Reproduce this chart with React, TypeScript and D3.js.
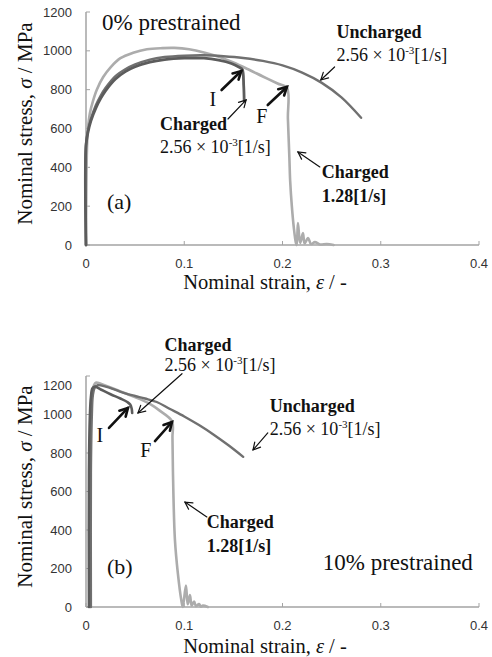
import * as d3 from "d3";

type Pt = [number, number];

const xTicks = [0, 0.1, 0.2, 0.3, 0.4];
const yTicks = [0, 200, 400, 600, 800, 1000, 1200];

// (a) 0% prestrained — [strain, stress MPa]
const aUncharged: Pt[] = [
  [0, 0], [0, 520], [0.002, 590], [0.005, 650], [0.01, 720], [0.015, 770], [0.02, 810],
  [0.03, 870], [0.04, 905], [0.05, 930], [0.065, 955], [0.08, 968], [0.1, 975],
  [0.12, 977], [0.14, 972], [0.16, 963], [0.18, 948], [0.2, 925], [0.22, 888],
  [0.24, 835], [0.26, 760], [0.28, 655],
];
const aChargedSlow: Pt[] = [
  [0, 0], [0, 510], [0.002, 580], [0.005, 640], [0.01, 705], [0.015, 755], [0.02, 795],
  [0.03, 855], [0.04, 893], [0.05, 918], [0.065, 942], [0.08, 955], [0.1, 962],
  [0.12, 962], [0.135, 952], [0.148, 935], [0.156, 915], [0.159, 905], [0.1605, 820],
  [0.161, 740],
];
const aChargedFast: Pt[] = [
  [0, 0], [0.001, 500], [0.002, 600], [0.004, 680], [0.007, 740], [0.011, 800],
  [0.0175, 865], [0.025, 915], [0.035, 962], [0.048, 990], [0.062, 1008], [0.078, 1014],
  [0.09, 1015], [0.105, 1008], [0.12, 992], [0.135, 970], [0.15, 940], [0.165, 905],
  [0.18, 868], [0.195, 832], [0.2045, 810], [0.2055, 650], [0.207, 450], [0.2078, 330],
  [0.2095, 200], [0.2115, 90], [0.2135, 15], [0.2145, 0], [0.2157, 113], [0.218, 10],
  [0.2208, 62], [0.2225, 8], [0.226, 36], [0.229, 5], [0.233, 15], [0.238, 3],
  [0.245, 5], [0.252, 0],
];

// (b) 10% prestrained
const bUncharged: Pt[] = [
  [0.005, 0], [0.005, 700], [0.006, 1000], [0.007, 1100], [0.009, 1140], [0.012, 1152],
  [0.02, 1145], [0.03, 1128], [0.04, 1110], [0.05, 1096], [0.06, 1083], [0.072, 1065],
  [0.085, 1030], [0.1, 990], [0.115, 945], [0.13, 895], [0.145, 840], [0.16, 780],
];
const bChargedSlow: Pt[] = [
  [0.003, 0], [0.003, 700], [0.004, 1000], [0.005, 1090], [0.0065, 1135], [0.009, 1145],
  [0.015, 1130], [0.025, 1105], [0.035, 1083], [0.042, 1065], [0.045, 1052],
  [0.0465, 1030], [0.047, 1008],
];
const bChargedFast: Pt[] = [
  [0.004, 0], [0.004, 700], [0.005, 1000], [0.006, 1110], [0.008, 1150], [0.01, 1165],
  [0.015, 1160], [0.025, 1140], [0.035, 1120], [0.045, 1100], [0.055, 1080],
  [0.065, 1055], [0.075, 1020], [0.0875, 965], [0.088, 880], [0.0885, 700],
  [0.0905, 350], [0.0935, 175], [0.097, 36], [0.0985, 0], [0.1017, 112], [0.1035, 15],
  [0.1058, 62], [0.1075, 8], [0.11, 28], [0.112, 4], [0.115, 15], [0.117, 2],
  [0.119, 7], [0.124, 0],
];

const COL_UNCH = "#707070";
const COL_SLOW = "#5c5c5c";
const COL_FAST = "#acacac";
const SERIF = "Liberation Serif, Times New Roman, DejaVu Serif, serif";
const SANS = "Liberation Sans, Arial, sans-serif";

type Label = { x: number; y: number; text: string; bold?: boolean; rate?: boolean; size?: number; anchor?: string };
type ArrowDef = { x1: number; y1: number; x2: number; y2: number; thick?: boolean };

const aLabels: Label[] = [
  { x: 0.0163, y: 1105, text: "0% prestrained", size: 23 },
  { x: 0.255, y: 1066, text: "Uncharged", bold: true },
  { x: 0.255, y: 950, text: "2.56", rate: true },
  { x: 0.0753, y: 592, text: "Charged", bold: true },
  { x: 0.0753, y: 474, text: "2.56", rate: true },
  { x: 0.24, y: 345, text: "Charged", bold: true },
  { x: 0.24, y: 221, text: "1.28[1/s]", bold: true },
  { x: 0.129, y: 716, text: "I", size: 20, anchor: "middle" },
  { x: 0.179, y: 628, text: "F", size: 20, anchor: "middle" },
  { x: 0.0214, y: 185, text: "(a)", size: 22 },
];
const aArrows: ArrowDef[] = [
  { x1: 0.253, y1: 917, x2: 0.239, y2: 850 },
  { x1: 0.1445, y1: 649, x2: 0.163, y2: 747 },
  { x1: 0.238, y1: 402, x2: 0.2157, y2: 479 },
  { x1: 0.138, y1: 798, x2: 0.158, y2: 896, thick: true },
  { x1: 0.185, y1: 721, x2: 0.2045, y2: 814, thick: true },
];

const bLabels: Label[] = [
  { x: 0.08, y: 1330, text: "Charged", bold: true },
  { x: 0.08, y: 1225, text: "2.56", rate: true },
  { x: 0.187, y: 1013, text: "Uncharged", bold: true },
  { x: 0.187, y: 894, text: "2.56", rate: true },
  { x: 0.123, y: 410, text: "Charged", bold: true },
  { x: 0.123, y: 286, text: "1.28[1/s]", bold: true },
  { x: 0.241, y: 192, text: "10% prestrained", size: 23 },
  { x: 0.0142, y: 857, text: "I", size: 20, anchor: "middle" },
  { x: 0.061, y: 779, text: "F", size: 20, anchor: "middle" },
  { x: 0.0214, y: 171, text: "(b)", size: 22 },
];
const bArrows: ArrowDef[] = [
  { x1: 0.0977, y1: 1212, x2: 0.0529, y2: 1008 },
  { x1: 0.185, y1: 904, x2: 0.17, y2: 816 },
  { x1: 0.123, y1: 468, x2: 0.1007, y2: 545 },
  { x1: 0.0234, y1: 930, x2: 0.0427, y2: 1034, thick: true },
  { x1: 0.0702, y1: 862, x2: 0.0875, y2: 961, thick: true },
];

function Arrow({ x1, y1, x2, y2, thick }: { x1: number; y1: number; x2: number; y2: number; thick?: boolean }) {
  const a = Math.atan2(y2 - y1, x2 - x1);
  const h = thick ? 9 : 8;
  const s = 0.5;
  const p1 = [x2 - h * Math.cos(a - s), y2 - h * Math.sin(a - s)];
  const p2 = [x2 - h * Math.cos(a + s), y2 - h * Math.sin(a + s)];
  return (
    <g stroke="#111" strokeWidth={thick ? 2.6 : 1.2} fill="none" strokeLinecap="round">
      <line x1={x1} y1={y1} x2={x2} y2={y2} />
      <polyline points={`${p1[0]},${p1[1]} ${x2},${y2} ${p2[0]},${p2[1]}`} strokeLinejoin="miter" />
    </g>
  );
}

function Panel({
  top, bottom, series, labels, arrows, xLabelGap, topLabelShift,
}: {
  top: number; bottom: number; series: { data: Pt[]; color: string; w: number }[];
  labels: Label[]; arrows: ArrowDef[]; xLabelGap: number; topLabelShift: number;
}) {
  const x = d3.scaleLinear().domain([0, 0.4]).range([86, 479]);
  const y = d3.scaleLinear().domain([0, 1200]).range([bottom, top]);
  const line = d3.line<Pt>().x((d) => x(d[0])).y((d) => y(d[1])).curve(d3.curveCatmullRom.alpha(0.5));
  const axisCol = "#a3a3a3";
  return (
    <g>
      {/* axes */}
      <line x1={x(0)} x2={x(0)} y1={y(0)} y2={y(1200)} stroke={axisCol} strokeWidth={1.5} />
      <line x1={x(0)} x2={x(0.4)} y1={y(0)} y2={y(0)} stroke={axisCol} strokeWidth={1.5} />
      {yTicks.map((t) => (
        <g key={"y" + t}>
          <line x1={x(0)} x2={x(0) + 4} y1={y(t)} y2={y(t)} stroke={axisCol} strokeWidth={1} />
          <text x={x(0) - 14} y={y(t) + (t === 1200 ? topLabelShift : 0)} dy="0.35em" textAnchor="end"
            fontFamily={SANS} fontSize={13} fill="#333">{t}</text>
        </g>
      ))}
      {xTicks.map((t) => (
        <g key={"x" + t}>
          <line x1={x(t)} x2={x(t)} y1={y(0)} y2={y(0) - 4} stroke={axisCol} strokeWidth={1} />
          <text x={x(t)} y={y(0) + 18} dy="0.35em" textAnchor="middle" fontFamily={SANS} fontSize={13} fill="#333">{t}</text>
        </g>
      ))}
      <text x={265} y={y(0) + xLabelGap} textAnchor="middle" fontFamily={SERIF} fontSize={20.5} fill="#111">
        Nominal strain, <tspan fontStyle="italic">ε</tspan> / -
      </text>
      <text transform={`translate(25,${(y(0) + y(1200)) / 2 - 5}) rotate(-90)`} dy="0.35em" textAnchor="middle"
        fontFamily={SERIF} fontSize={21} fill="#111">
        Nominal stress, <tspan fontStyle="italic">σ</tspan> / MPa
      </text>
      {/* curves */}
      {series.map((s, i) => (
        <path key={i} d={line(s.data) ?? ""} fill="none" stroke={s.color} strokeWidth={s.w}
          strokeLinejoin="round" strokeLinecap="round" />
      ))}
      {/* annotations */}
      {arrows.map((a, i) => (
        <Arrow key={i} x1={x(a.x1)} y1={y(a.y1)} x2={x(a.x2)} y2={y(a.y2)} thick={a.thick} />
      ))}
      {labels.map((l, i) => (
        <text key={i} x={x(l.x)} y={y(l.y)} textAnchor={l.anchor ?? "start"} fontFamily={SERIF}
          fontSize={l.size ?? 18} fontWeight={l.bold ? "bold" : "normal"} fill="#111">
          {l.rate ? (
            <>
              {l.text} × 10<tspan fontSize={11} dy={-7}>-3</tspan><tspan dy={7}>[1/s]</tspan>
            </>
          ) : l.text}
        </text>
      ))}
    </g>
  );
}

export default function App() {
  return (
    <svg width={492} height={657} viewBox="0 0 492 657"
      style={{ position: "absolute", left: 0, top: 0, background: "#fff", display: "block" }}>
      <Panel top={12} bottom={245} xLabelGap={44} topLabelShift={0}
        series={[
          { data: aChargedFast, color: COL_FAST, w: 2.6 },
          { data: aUncharged, color: COL_UNCH, w: 2.4 },
          { data: aChargedSlow, color: COL_SLOW, w: 2.8 },
        ]}
        labels={aLabels} arrows={aArrows} />
      <Panel top={376} bottom={607} xLabelGap={46} topLabelShift={9}
        series={[
          { data: bChargedFast, color: COL_FAST, w: 2.6 },
          { data: bUncharged, color: COL_UNCH, w: 2.4 },
          { data: bChargedSlow, color: COL_SLOW, w: 2.6 },
        ]}
        labels={bLabels} arrows={bArrows} />
    </svg>
  );
}
